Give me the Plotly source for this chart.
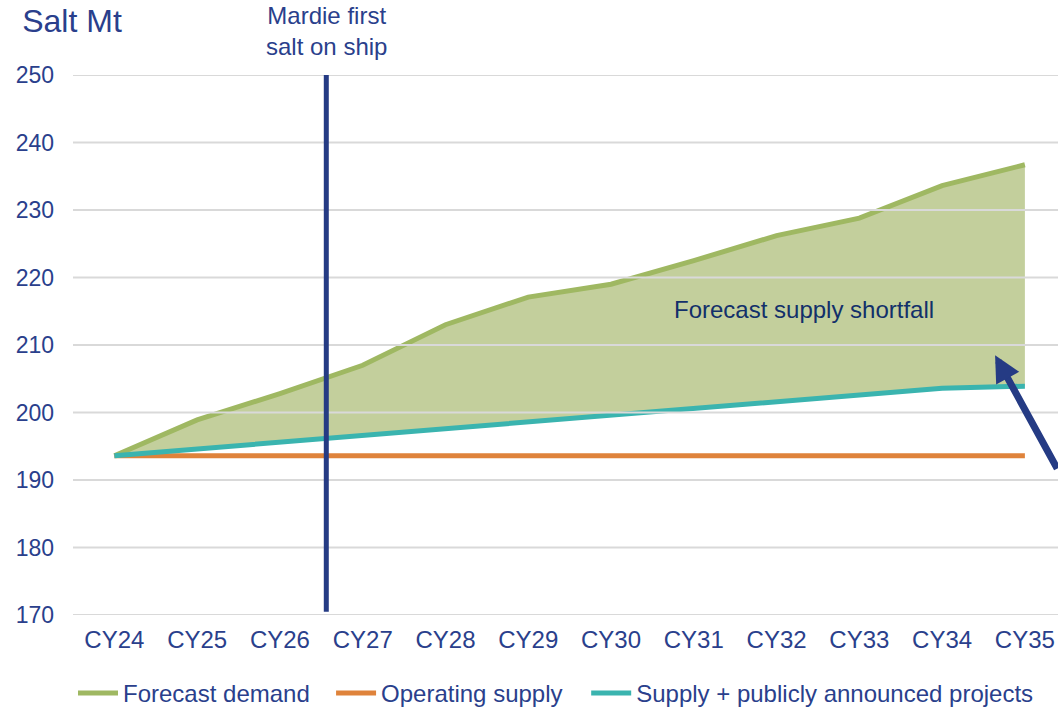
import plotly.graph_objects as go

years = ["CY24", "CY25", "CY26", "CY27", "CY28", "CY29", "CY30", "CY31", "CY32", "CY33", "CY34", "CY35"]
forecast_demand = [193.6, 198.9, 202.8, 207.0, 213.0, 217.1, 219.0, 222.5, 226.2, 228.8, 233.6, 236.7]
operating_supply = [193.6] * 12
supply_announced = [193.6, 194.6, 195.6, 196.6, 197.5, 198.5, 199.5, 200.6, 201.6, 202.6, 203.6, 203.9]
y_ticks = [170, 180, 190, 200, 210, 220, 230, 240, 250]

mardie_pos = 2.56          # between CY26 and CY27
arrow_tip = (10.64, 208.5)
shortfall_label = (8.33, 215.2)

NAVY = "#253b84"
TEXT = "#2a3f8c"
GREEN = "#9fb862"
FILL = "#c3cf9c"
ORANGE = "#df833b"
TEAL = "#3ab4af"
GRID = "#d9d9d9"
FONT = "Liberation Sans, Arial, sans-serif"

fig = go.Figure()

# shaded shortfall area between demand and supply+announced
fig.add_trace(go.Scatter(x=years, y=supply_announced, mode="lines",
                         line=dict(width=0, color=TEAL), showlegend=False, hoverinfo="skip"))
fig.add_trace(go.Scatter(x=years, y=forecast_demand, mode="lines", fill="tonexty",
                         fillcolor=FILL, line=dict(width=0, color=GREEN),
                         showlegend=False, hoverinfo="skip"))

fig.add_trace(go.Scatter(x=years, y=forecast_demand, mode="lines", name="Forecast demand",
                         line=dict(color=GREEN, width=5), legend="legend"))
fig.add_trace(go.Scatter(x=years, y=operating_supply, mode="lines", name="Operating supply",
                         line=dict(color=ORANGE, width=5), legend="legend2"))
fig.add_trace(go.Scatter(x=years, y=supply_announced, mode="lines",
                         name="Supply + publicly announced projects",
                         line=dict(color=TEAL, width=5), legend="legend3"))

# gridlines drawn above the fill (as in the reference)
for t in y_ticks:
    fig.add_shape(type="line", xref="paper", x0=0, x1=1, yref="y", y0=t, y1=t,
                  line=dict(color=GRID, width=2), layer="above")

# Mardie vertical marker
fig.add_shape(type="line", xref="x", x0=mardie_pos, x1=mardie_pos, yref="y", y0=170.5, y1=250.6,
              line=dict(color=NAVY, width=5), layer="above")

fig.add_annotation(x=mardie_pos, xref="x", y=1.0, yref="paper", yshift=13,
                   text="Mardie first<br>salt on ship", showarrow=False,
                   xanchor="center", yanchor="bottom",
                   font=dict(family=FONT, size=24, color=TEXT))

fig.add_annotation(x=shortfall_label[0], y=shortfall_label[1], xref="x", yref="y",
                   text="Forecast supply shortfall", showarrow=False,
                   font=dict(family=FONT, size=24, color="#12306a"))

fig.add_annotation(x=arrow_tip[0], y=arrow_tip[1], xref="x", yref="y", text="",
                   showarrow=True, arrowhead=2, arrowsize=0.75, arrowwidth=7,
                   arrowcolor=NAVY, ax=66, ay=115, standoff=0)

leg_common = dict(orientation="h", xanchor="left", y=-0.145, yanchor="middle",
                  font=dict(family=FONT, size=24, color=TEXT), itemwidth=40,
                  bgcolor="rgba(0,0,0,0)")

fig.update_layout(
    width=1058, height=708,
    margin=dict(l=73, r=0, t=75, b=93, autoexpand=False),
    paper_bgcolor="white", plot_bgcolor="white",
    font=dict(family=FONT, size=23, color=TEXT),
    title=dict(text="Salt Mt", x=0.021, xanchor="left", y=0.97, yanchor="middle",
               font=dict(family=FONT, size=32, color=TEXT)),
    showlegend=True,
    legend=dict(x=0.0, **leg_common),
    legend2=dict(x=0.262, **leg_common),
    legend3=dict(x=0.521, **leg_common),
    xaxis=dict(type="category", range=[-0.5, 11.4], showgrid=False, zeroline=False,
               showline=False, ticks="", tickfont=dict(size=24, color=TEXT),
               ticklabelstandoff=8, automargin=False),
    yaxis=dict(range=[170, 250], tickvals=y_ticks, showgrid=False, zeroline=False,
               showline=False, ticks="", tickfont=dict(size=23, color=TEXT),
               ticklabelstandoff=18, automargin=False),
)

fig.write_html("out.html", config={"displayModeBar": False},
               post_script="document.body.style.margin='0';document.body.style.overflow='hidden';")
